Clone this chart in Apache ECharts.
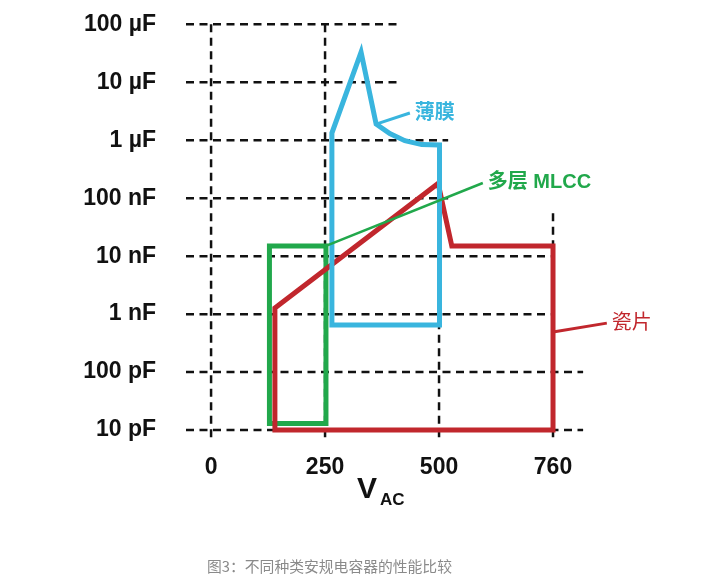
<!DOCTYPE html>
<html>
<head>
<meta charset="utf-8">
<script src="https://cdn.jsdelivr.net/npm/echarts@6.0.0/dist/echarts.min.js"></script>
<style>
  html, body { margin: 0; padding: 0; background: #fff; }
  #chart { width: 706px; height: 577px; }
</style>
</head>
<body>
<div id="chart"></div>
<script>
// 安規電容器性能比較:x = 交流電壓 V_AC,y = 容值(pF,對數軸)

const xTickVals = [0, 250, 500, 750];
const xTickLabels = ['0', '250', '500', '760'];   // 760 畫在等距的第四格
const yTickVals = [10, 100, 1e3, 1e4, 1e5, 1e6, 1e7, 1e8];
const yTickLabels = ['10 pF', '100 pF', '1 nF', '10 nF', '100 nF', '1 µF', '10 µF', '100 µF'];

// 薄膜
const filmV = [265, 265, 329, 362, 392, 425, 462, 501, 501, 265];
const filmC = [650, 1.33e6, 3.3e7, 1.9e6, 1.3e6, 9.8e5, 8.4e5, 8.3e5, 650, 650];
// 瓷片
const ceramicV = [140, 140, 498, 528, 750, 750, 140];
const ceramicC = [10, 1270, 1.8e5, 1.5e4, 1.5e4, 10, 10];
// 多层 MLCC
const mlccV = [128, 128, 252, 252, 128];
const mlccC = [13, 1.5e4, 1.5e4, 13, 13];

// 標註引線(起點、終點)
const filmLeadV = [362, 436];
const filmLeadC = [1.9e6, 2.95e6];
const mlccLeadV = [252, 596];
const mlccLeadC = [1.5e4, 1.83e5];
const ceramicLeadV = [750, 868];
const ceramicLeadC = [490, 700];

// 虛線格線的範圍
const hLineC = [1e8, 1e7, 1e6, 1e5, 1e4, 1e3, 100, 10];
const hLineEnd = [410, 410, 520, 520, 745, 745, 816, 816];
const hLineStart = -55;
const vLineTop = [1e8, 1e8, 1e6, 6.3e4];
const vLineBottom = 7.5;

const BLUE = '#39b5de', RED = '#c1272d', GREEN = '#21a84b';
const FONT = '"Liberation Sans", Arial, sans-serif';
const CJK = '"Liberation Sans", "Noto Sans CJK SC", sans-serif';

const zip = (xs, ys) => xs.map((x, i) => [x, ys[i]]);

const gridSegs = [
  ...hLineC.map((c, i) => [[hLineStart, c], [hLineEnd[i], c]]),
  ...xTickVals.map((v, i) => [[v, vLineBottom], [v, vLineTop[i]]]),
];

const gridSeries = gridSegs.map((seg) => ({
  type: 'line', data: seg, z: 1,
  symbol: 'none', silent: true, animation: false,
  lineStyle: { color: '#111', width: 2.5, type: [8, 5.5] },
}));

function outline(name, data, color, z) {
  return {
    name, type: 'line', data, z,
    symbol: 'none', silent: true, animation: false,
    lineStyle: { color, width: 5, join: 'miter', cap: 'square' },
  };
}

function leader(text, data, color, width, fontWeight) {
  return {
    type: 'line', data, z: 6, clip: false,
    symbol: 'none', silent: true, animation: false,
    lineStyle: { color, width },
    endLabel: {
      show: true, formatter: text, distance: 5,
      color, fontFamily: CJK, fontSize: 20, fontWeight,
    },
  };
}

const chart = echarts.init(document.getElementById('chart'), null, { renderer: 'canvas' });
chart.setOption({
  animation: false,
  grid: { left: 186, right: 39, top: 24.3, bottom: 139.7 },
  xAxis: {
    type: 'value', min: -55, max: 1000,
    axisLine: { show: false }, axisTick: { show: false }, splitLine: { show: false },
    axisLabel: {
      customValues: xTickVals,
      formatter: (v) => xTickLabels[xTickVals.indexOf(v)] ?? '',
      margin: 19, color: '#111', fontFamily: FONT, fontWeight: 'bold', fontSize: 23,
    },
  },
  yAxis: {
    type: 'log', logBase: 10, min: 7.5, max: 1e8,
    axisLine: { show: false }, axisTick: { show: false }, splitLine: { show: false },
    axisLabel: {
      customValues: yTickVals,
      formatter: (v) => {
        const i = yTickVals.findIndex((t) => Math.abs(Math.log10(t) - Math.log10(v)) < 1e-6);
        return i >= 0 ? yTickLabels[i] : '';
      },
      margin: 30, color: '#111', fontFamily: FONT, fontWeight: 'bold', fontSize: 23,
    },
  },
  graphic: [
    { type: 'text', left: 357, top: 475, style: { text: 'V', font: 'bold 30px ' + FONT, fill: '#111' } },
    { type: 'text', left: 380, top: 492, style: { text: 'AC', font: 'bold 17px ' + FONT, fill: '#111' } },
    { type: 'text', left: 207, top: 559, style: { text: '图3：不同种类安规电容器的性能比较', font: '14.8px "Noto Sans CJK SC", sans-serif', fill: '#8a8a8a' } },
  ],
  series: [
    ...gridSeries,
    outline('多层 MLCC', zip(mlccV, mlccC), GREEN, 3),
    outline('瓷片', zip(ceramicV, ceramicC), RED, 4),
    outline('薄膜', zip(filmV, filmC), BLUE, 5),
    leader('多层 MLCC', zip(mlccLeadV, mlccLeadC), GREEN, 2.5, 'bold'),
    leader('薄膜', zip(filmLeadV, filmLeadC), BLUE, 3, 'bold'),
    leader('瓷片', zip(ceramicLeadV, ceramicLeadC), RED, 3, 'normal'),
  ],
});
</script>
</body>
</html>
